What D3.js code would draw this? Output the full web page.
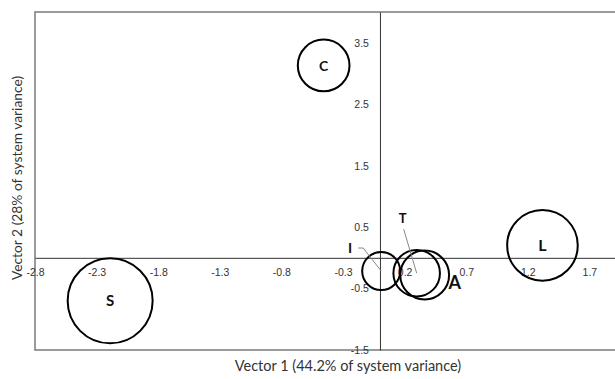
<!DOCTYPE html>
<html>
<head>
<meta charset="utf-8">
<script src="https://cdn.jsdelivr.net/npm/d3@7"></script>
<style>
  body { margin:0; background:#fff; }
  svg { display:block; font-family: Lato, "Open Sans", sans-serif; }
  .tick-label { font-size:10.5px; fill:#333; }
  .axis-title { fill:#333; }
  .bubble-label { font-weight:bold; fill:#111; }
</style>
</head>
<body>
<div id="chart"></div>
<script>
//bubble chart - two vectors of system variance

var names = ["S","C","I","T","A","L"];
var vector1 = [-2.19, -0.457, 0.01, 0.298, 0.363, 1.319];
var vector2 = [-0.70, 3.13, -0.215, -0.25, -0.28, 0.203];
var bubbleSize = [100, 37, 20, 30, 33, 69];

var xTicks = [-2.8,-2.3,-1.8,-1.3,-0.8,-0.3,0.2,0.7,1.2,1.7];
var yTicks = [-1.5,-0.5,0.5,1.5,2.5,3.5];

var xTitle = "Vector 1 (44.2% of system variance)";
var yTitle = "Vector 2 (28% of system variance)";

//label placement (offset from bubble centre, font size, leader line)
var labelLayout = {
    S: {dx:0, dy:0, size:15},
    C: {dx:0, dy:0, size:14},
    L: {dx:0, dy:0, size:16},
    I: {dx:-31, dy:-23, size:14, leader:[[8,0],[13,0]]},
    T: {dx:-14, dy:-55, size:13, leader:[[1,11]]},
    A: {dx:30, dy:7, size:18}
};

var width = 615, height = 379;
var frame = {left:35, top:12, bottom:350};

var x = d3.scaleLinear()
    .domain([-2.8, 2.0])
    .range([frame.left, frame.left + 4.8*123.2]);

var y = d3.scaleLinear()
    .domain([-1.5, 4])
    .range([frame.bottom, frame.top]);

var r = d3.scaleSqrt()
    .domain([0, d3.max(bubbleSize)])
    .range([0, 42.5]);

var data = names.map(function(n,i){
    return {name:n, v1:vector1[i], v2:vector2[i], size:bubbleSize[i]};
});

//plain hyphen minus, like the original
var fmt = d => d.toFixed(1);

var svg = d3.select("#chart")
    .append("svg")
    .attr("width", width)
    .attr("height", height);

//plot frame
svg.append("rect")
    .attr("x", x(-2.8))
    .attr("y", y(4))
    .attr("width", x(2.0) - x(-2.8))
    .attr("height", y(-1.5) - y(4))
    .attr("fill","none")
    .attr("stroke","#7a7a7a")
    .attr("stroke-width",1.5);

//axes crossing at zero
var xAxis = svg.append("g")
    .attr("transform","translate(0," + y(0) + ")")
    .call(d3.axisBottom(x).tickValues(xTicks).tickSize(0).tickFormat(fmt));
xAxis.select(".domain").attr("stroke","#333").attr("stroke-width",1);
xAxis.selectAll(".tick text")
    .attr("class","tick-label")
    .attr("y",11)
    .attr("dy","0.71em")
    .attr("font-size",null)
    .attr("font-family",null)
    .attr("fill",null);

var yAxis = svg.append("g")
    .attr("transform","translate(" + x(0) + ",0)")
    .call(d3.axisLeft(y).tickValues(yTicks).tickSize(0).tickFormat(fmt));
yAxis.select(".domain").attr("stroke","#333").attr("stroke-width",1);
yAxis.selectAll(".tick text")
    .attr("class","tick-label")
    .attr("x",-11)
    .attr("font-size",null)
    .attr("font-family",null)
    .attr("fill",null);

//axis titles
svg.append("text")
    .attr("class","axis-title")
    .attr("x",348)
    .attr("y",371)
    .style("font-size","14.5px")
    .style("text-anchor","middle")
    .text(xTitle);

svg.append("text")
    .attr("class","axis-title")
    .attr("transform","translate(22," + 178 + ") rotate(-90)")
    .style("font-size","13.8px")
    .style("text-anchor","middle")
    .text(yTitle);

//bubbles
svg.append("g")
    .selectAll("circle")
    .data(data)
    .enter()
    .append("circle")
    .attr("cx", d => x(d.v1))
    .attr("cy", d => y(d.v2))
    .attr("r", d => r(d.size))
    .attr("fill","none")
    .attr("stroke","#000")
    .attr("stroke-width",2);

//leader lines
data.forEach(function(d){
    var lay = labelLayout[d.name];
    if(!lay.leader) return;
    var cx = x(d.v1), cy = y(d.v2);
    var pts = lay.leader.map(p => [cx + lay.dx + p[0], cy + lay.dy + p[1]]);
    pts.push([cx, cy]);
    svg.append("path")
        .attr("d", d3.line()(pts))
        .attr("fill","none")
        .attr("stroke","#888")
        .attr("stroke-width",1);
});

//bubble labels
svg.append("g")
    .selectAll("text")
    .data(data)
    .enter()
    .append("text")
    .attr("class","bubble-label")
    .attr("x", d => x(d.v1) + labelLayout[d.name].dx)
    .attr("y", d => y(d.v2) + labelLayout[d.name].dy)
    .attr("dy","0.36em")
    .style("font-size", d => labelLayout[d.name].size + "px")
    .style("text-anchor","middle")
    .text(d => d.name);
</script>
</body>
</html>
